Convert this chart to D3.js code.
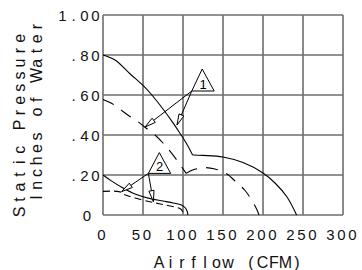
<!DOCTYPE html>
<html>
<head>
<meta charset="utf-8">
<script src="https://cdn.jsdelivr.net/npm/d3@7"></script>
<style>
  html, body { margin: 0; padding: 0; background: #fff; }
  svg { display: block; }
</style>
</head>
<body>
<div id="chart"></div>
<script>
// axis values
var xTicks = [0, 50, 100, 150, 200, 250, 300];
var yTicks = [0, 0.2, 0.4, 0.6, 0.8, 1.0];
var yTickLabels = ["0", ".20", ".40", ".60", ".80", "1.00"];

// fan curve 1 (upper pair), airflow CFM vs static pressure in. H2O
var fan1SolidA = [[0,0.80],[15,0.775],[34,0.705],[50,0.648],[60,0.605],[75,0.53],[88,0.458],[96,0.41],[104,0.36],[112,0.30]];
var fan1SolidB = [[112,0.30],[125,0.298],[150,0.29],[175,0.262],[200,0.21],[215,0.16],[230,0.09],[242,0]];
var fan1DashA = [[0,0.578],[10,0.56],[20,0.533],[31,0.50],[42,0.472],[52,0.44],[65,0.40],[75,0.36],[84,0.318],[94,0.265],[104,0.208]];
var fan1DashB = [[104,0.208],[112,0.225],[127,0.237],[140,0.23],[155,0.205],[165,0.17],[177,0.125],[185,0.08],[192,0.03],[195,0]];

// fan curve 2 (lower pair)
var fan2Solid = [[0,0.20],[10,0.172],[25,0.135],[40,0.105],[59,0.082],[75,0.07],[88,0.06],[98,0.05],[103,0.035],[105.5,0.015],[106,0]];
var fan2Dash = [[0,0.118],[20,0.117],[28,0.10],[40,0.085],[60,0.065],[75,0.052],[90,0.04],[97,0.03],[100,0.015],[101,0]];

// callout triangles: apex, base left, base right (data units) + label
var calloutLabels = ["1", "2"];
var calloutTris = [
  [[124,0.73],[111,0.62],[139,0.62]],
  [[70.4,0.312],[56.7,0.208],[84.6,0.208]]
];
// arrow tips for each callout (start at base-left corner)
var calloutTips = [
  [[52.5,0.44],[92.5,0.45]],
  [[23.4,0.117],[63,0.067]]
];

var width = 362, height = 270;
var svg = d3.select("#chart").append("svg")
  .attr("width", width).attr("height", height);

var x = d3.scaleLinear().domain([0, 300]).range([103, 343]);
var y = d3.scaleLinear().domain([0, 1]).range([215, 15]);

var gridColor = "#6e6e6e";
var font = "'Liberation Sans', Arial, sans-serif";

// draw text with each character centred on a fixed pitch (plotter look)
function pitchText(g, str, cx, cy, pitch, size) {
  var n = str.length, first = cx - (n - 1) * pitch / 2;
  var xs = [];
  for (var i = 0; i < n; i++) xs.push((first + i * pitch).toFixed(1));
  return g.append("text")
    .attr("x", xs.join(" "))
    .attr("y", cy)
    .attr("text-anchor", "middle")
    .attr("font-family", font)
    .attr("font-size", size + "px")
    .attr("fill", "#111")
    .text(str);
}

// grid
var grid = svg.append("g");
grid.selectAll("line.v").data(xTicks).enter().append("line")
  .attr("x1", function(d){ return x(d); }).attr("x2", function(d){ return x(d); })
  .attr("y1", y(0)).attr("y2", y(1))
  .style("stroke", gridColor).style("stroke-width", 1.6);
grid.selectAll("line.h").data(yTicks).enter().append("line")
  .attr("x1", x(0)).attr("x2", x(300))
  .attr("y1", function(d){ return y(d); }).attr("y2", function(d){ return y(d); })
  .style("stroke", gridColor).style("stroke-width", 1.6);

// tick labels
var labels = svg.append("g");
xTicks.forEach(function(d){
  pitchText(labels, String(d), x(d) - 1.5, 240, 11, 15);
});
yTicks.forEach(function(d, i){
  var s = yTickLabels[i];
  var lastC = (s === "0") ? 87 : 95.5;
  pitchText(labels, s, lastC - (s.length - 1) * 11 / 2, y(d) + 6, 11, 15);
});

// axis titles
pitchText(labels, "Airflow (CFM)", 228, 268, 11.5, 16);
var t1 = labels.append("g").attr("transform", "translate(25,125) rotate(-90)");
pitchText(t1, "Static Pressure", 0, 0, 12.4, 16);
var t2 = labels.append("g").attr("transform", "translate(42,112) rotate(-90)");
pitchText(t2, "Inches of Water", 0, 0, 12.2, 16);

// curves
var line = d3.line()
  .x(function(d){ return x(d[0]); })
  .y(function(d){ return y(d[1]); })
  .curve(d3.curveCatmullRom);

var curves = svg.append("g").style("fill", "none").style("stroke", "#000").style("stroke-width", 1.1);
[fan1SolidA, fan1SolidB, fan2Solid].forEach(function(c){
  curves.append("path").attr("d", line(c));
});
[fan1DashA, fan1DashB].forEach(function(c){
  curves.append("path").attr("d", line(c)).style("stroke-dasharray", "12,9");
});
curves.append("path").attr("d", line(fan2Dash)).style("stroke-dasharray", "7,4");

// callouts
var notes = svg.append("g");
calloutTris.forEach(function(tri, i){
  notes.append("polygon")
    .attr("points", tri.map(function(p){ return x(p[0]) + "," + y(p[1]); }).join(" "))
    .style("fill", "none").style("stroke", "#000").style("stroke-width", 1);
  var cx = (x(tri[1][0]) + x(tri[2][0])) / 2;
  notes.append("text")
    .attr("x", cx).attr("y", y(tri[1][1]) - 2)
    .attr("text-anchor", "middle")
    .attr("font-family", font).attr("font-size", "13px")
    .text(calloutLabels[i]);
  var sx = x(tri[1][0]), sy = y(tri[1][1]);
  calloutTips[i].forEach(function(t){
    var tx = x(t[0]), ty = y(t[1]);
    var dx = tx - sx, dy = ty - sy, len = Math.sqrt(dx*dx + dy*dy);
    var ux = dx/len, uy = dy/len;
    var bx = tx - ux*11, by = ty - uy*11;
    notes.append("line")
      .attr("x1", sx).attr("y1", sy).attr("x2", tx).attr("y2", ty)
      .style("stroke", "#000").style("stroke-width", 1);
    notes.append("polygon")
      .attr("points", [[tx,ty],[bx - uy*2.6, by + ux*2.6],[bx + uy*2.6, by - ux*2.6]]
        .map(function(p){ return p[0].toFixed(1) + "," + p[1].toFixed(1); }).join(" "))
      .style("fill", "#fff").style("stroke", "#000").style("stroke-width", 1);
  });
});
</script>
</body>
</html>
